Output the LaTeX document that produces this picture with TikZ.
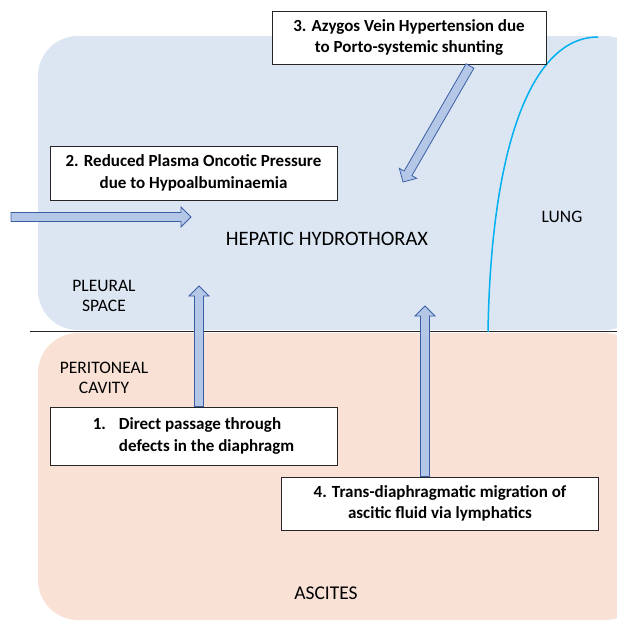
\documentclass[tikz,border=0pt]{standalone}
\usepackage{fontspec}
\setmainfont{Carlito}
\usetikzlibrary{calc}
\definecolor{pleura}{RGB}{220,230,242}
\definecolor{perit}{RGB}{249,226,213}
\definecolor{arrfill}{RGB}{180,199,231}
\definecolor{arrdraw}{RGB}{58,94,166}
\definecolor{lungc}{RGB}{0,176,240}
\newcommand\shw{4.5pt}
\newcommand\hhw{10pt}
\newcommand\hlen{10pt}
\newcommand\blockarrow[2]{%
  \draw[blockarr] let \p1=(#1), \p2=(#2), \n1={atan2(\y2-\y1,\x2-\x1)}, \n2={veclen(\x2-\x1,\y2-\y1)} in
    [shift={(\x1,\y1)}, rotate=\n1]
    (0pt,-\shw) -- (\n2-\hlen,-\shw) -- (\n2-\hlen,-\hhw) -- (\n2,0pt) -- (\n2-\hlen,\hhw) -- (\n2-\hlen,\shw) -- (0pt,\shw) -- cycle;
}
\begin{document}
\begin{tikzpicture}[x=1pt,y=-1pt,
  cause/.style={draw=black!85, line width=0.9pt, fill=white, align=center, font=\bfseries\fontsize{17}{21.5}\selectfont, inner sep=0pt},
  lbl/.style={font=\fontsize{17.5}{20}\selectfont, align=center, inner sep=0pt},
  blockarr/.style={fill=arrfill, draw=arrdraw, line width=0.8pt, line join=miter}]
\useasboundingbox (0,0) rectangle (617,621);
% regions
\fill[pleura, rounded corners=40pt] (38,36) rectangle (645,330);
\fill[perit, rounded corners=40pt] (38,333) rectangle (645,620);
% diaphragm line
\coordinate (dl) at (30,331);
\coordinate (dr) at (617,331);
\draw[black!85, line width=1pt] (dl) -- (dr);
% lung outline
\coordinate (lb) at (488,332);
\coordinate (lt) at (598,37);
\draw[lungc, line width=1.5pt] (lb) .. controls (491,145) and (532,37) .. (lt);
% labels
\node[lbl, font=\fontsize{20.5}{22}\selectfont] (hh) at (327,239) {HEPATIC HYDROTHORAX};
\node[lbl] (lung) at (562,217) {LUNG};
\node[lbl] (ps) at (104,296) {PLEURAL\\SPACE};
\node[lbl] (pc) at (104,378) {PERITONEAL\\CAVITY};
\node[lbl, font=\fontsize{19.5}{22}\selectfont] (asc) at (326,593) {ASCITES};
% cause boxes
\node[cause, minimum width=274pt, minimum height=53pt] (b3) at (409,37.5) {3. Azygos Vein Hypertension due\\to Porto-systemic shunting};
\node[cause, minimum width=287pt, minimum height=54pt] (b2) at (193.5,173) {2. Reduced Plasma Oncotic Pressure\\due to Hypoalbuminaemia};
\node[cause, minimum width=287pt, minimum height=58pt] (b1) at (193.5,436) {\begin{tabular}{@{}l@{\hspace{13pt}}l@{}}1.&Direct passage through\\&defects in the diaphragm\end{tabular}};
\node[cause, minimum width=316.5pt, minimum height=53pt] (b4) at (440,503.5) {4. Trans-diaphragmatic migration of\\ascitic fluid via lymphatics};
% arrows
\coordinate (a1t) at (199,286);
\coordinate (a4t) at (425,306);
\coordinate (a3s) at (470,66);
\coordinate (a3t) at (403,182);
\coordinate (a2s) at (11,217);
\coordinate (a2t) at (191,217);
\blockarrow{b1.north -| a1t}{a1t}
\blockarrow{b4.north -| a4t}{a4t}
\blockarrow{a3s}{a3t}
\blockarrow{a2s}{a2t}
\end{tikzpicture}
\end{document}
